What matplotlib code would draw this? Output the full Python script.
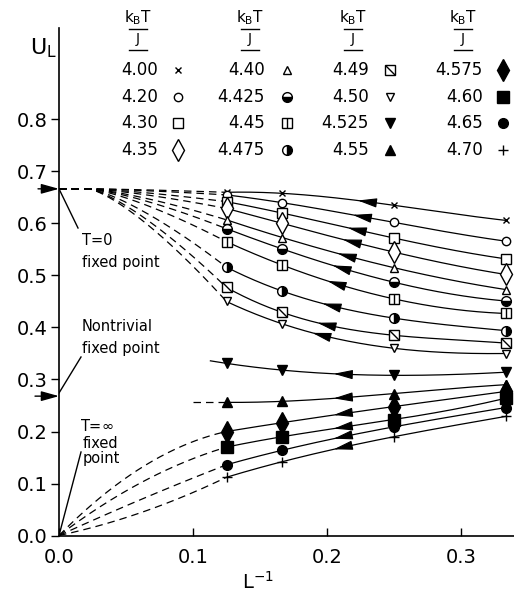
import numpy as np
import matplotlib
matplotlib.use('Agg')
import matplotlib.pyplot as plt
from matplotlib.path import Path


# inverse system sizes, L = 8, 6, 4, 3
L_inv = [1 / 8, 1 / 6, 1 / 4, 1 / 3]

# temperatures kB T / J
temps_upper = ['4.00', '4.20', '4.30', '4.35', '4.40',
               '4.425', '4.45', '4.475', '4.49', '4.50']
temps_lower = ['4.525', '4.55', '4.575', '4.60', '4.65', '4.70']

# cumulant U_L at L = 8, 6, 4, 3
U_400 = [0.660, 0.658, 0.635, 0.606]
U_420 = [0.655, 0.640, 0.602, 0.566]
U_430 = [0.642, 0.620, 0.572, 0.532]
U_435 = [0.629, 0.600, 0.545, 0.502]
U_440 = [0.607, 0.573, 0.515, 0.473]
U_4425 = [0.590, 0.551, 0.487, 0.451]
U_445 = [0.565, 0.520, 0.455, 0.427]
U_4475 = [0.516, 0.470, 0.418, 0.394]
U_449 = [0.477, 0.429, 0.385, 0.370]
U_450 = [0.450, 0.407, 0.360, 0.350]
U_4525 = [0.331, 0.318, 0.308, 0.314]
U_455 = [0.256, 0.258, 0.273, 0.290]
U_4575 = [0.200, 0.217, 0.248, 0.277]
U_460 = [0.170, 0.190, 0.223, 0.264]
U_465 = [0.136, 0.164, 0.209, 0.246]
U_470 = [0.112, 0.142, 0.190, 0.229]

U_upper = [U_400, U_420, U_430, U_435, U_440, U_4425, U_445, U_4475, U_449, U_450]
U_lower = [U_4525, U_455, U_4575, U_460, U_465, U_470]

# fixed points on the U axis
U_T0 = 2 / 3
U_star = 0.268

# dashed guides towards T = inf: value read at L^-1 = 0.06
dash_mid_x = 0.06
dash_mid = {'4.575': 0.128, '4.60': 0.100, '4.65': 0.068, '4.70': 0.043}

slash = Path([(-1, 1), (1, -1)], [Path.MOVETO, Path.LINETO])
MARKERS = {
    '4.00': [dict(marker='x', ms=5, mew=1)],
    '4.20': [dict(marker='o', ms=6, mfc='white', mew=1)],
    '4.30': [dict(marker='s', ms=7, mfc='white', mew=1)],
    '4.35': [dict(marker='d', ms=11, mfc='white', mew=1)],
    '4.40': [dict(marker='^', ms=6, mfc='white', mew=1)],
    '4.425': [dict(marker='o', ms=7, fillstyle='bottom', mfc='k',
                   markerfacecoloralt='white', mew=1)],
    '4.45': [dict(marker='s', ms=7, mfc='white', mew=1), dict(marker='|', ms=7, mew=1)],
    '4.475': [dict(marker='o', ms=7, fillstyle='right', mfc='k',
                   markerfacecoloralt='white', mew=1)],
    '4.49': [dict(marker='s', ms=7, mfc='white', mew=1), dict(marker=slash, ms=7, mew=1)],
    '4.50': [dict(marker='v', ms=6, mfc='white', mew=1)],
    '4.525': [dict(marker='v', ms=7, mfc='k')],
    '4.55': [dict(marker='^', ms=7, mfc='k')],
    '4.575': [dict(marker='d', ms=11, mfc='k')],
    '4.60': [dict(marker='s', ms=8, mfc='k')],
    '4.65': [dict(marker='o', ms=7, mfc='k')],
    '4.70': [dict(marker='+', ms=7, mew=1)],
}

fig = plt.figure(figsize=(5.14, 6.01), dpi=100)
ax = fig.add_axes([59 / 514, 65.5 / 601, 455 / 514, 507 / 601])
ax.set_xlim(0, 455 / 1340)
ax.set_ylim(0, 507 / 520)


def px_x(p):
    return (p - 59) / 1340


def px_y(p):
    return (535.5 - p) / 520


def put_marker(x, y, key):
    for st in MARKERS[key]:
        ax.plot(x, y, linestyle='none', color='k', mec='k', zorder=5,
                clip_on=False, **st)


def put_arrow(coef, xa):
    ya = np.polyval(coef, xa)
    yb = np.polyval(coef, xa + 0.01)
    ax.annotate('', xy=(xa, ya), xytext=(xa + 0.01, yb),
                arrowprops=dict(arrowstyle='-|>,head_length=0.9,head_width=0.22',
                                mutation_scale=13, color='k', lw=0.8,
                                shrinkA=0, shrinkB=0), zorder=4)


dash = (0, (6, 4))
lw = 0.9

# upper family: flows to T = 0 fixed point
arrow_up = np.linspace(0.223, 0.189, len(temps_upper))
for t, u, xa in zip(temps_upper, U_upper, arrow_up):
    coef = np.polyfit(L_inv, u, 3)
    xs = np.linspace(L_inv[0], L_inv[-1], 200)
    ax.plot(xs, np.polyval(coef, xs), color='k', lw=lw, zorder=3)
    put_arrow(coef, xa)
    # dashed extrapolation to L^-1 = 0
    x0, x8 = 0.022, L_inv[0]
    xd = np.linspace(0, x8, 200)
    s = np.clip((xd - x0) / (x8 - x0), 0, 1) ** 1.35
    ax.plot(xd, U_T0 - (U_T0 - u[0]) * s, color='k', lw=lw, ls=dash, zorder=2)
    for x, y in zip(L_inv, u):
        put_marker(x, y, t)

# lower family
for t, u in zip(temps_lower, U_lower):
    coef = np.polyfit(L_inv, u, 3)
    x_start = 0.113 if t == '4.525' else L_inv[0]
    xs = np.linspace(x_start, L_inv[-1], 200)
    ax.plot(xs, np.polyval(coef, xs), color='k', lw=lw, zorder=3)
    put_arrow(coef, 0.205)
    if t == '4.55':
        ax.plot([0.1, L_inv[0]], [u[0], u[0]], color='k', lw=lw, ls=dash, zorder=2)
    elif t in dash_mid:
        # quadratic through the origin, the read mid value and the L = 8 point
        A = np.array([[dash_mid_x, dash_mid_x ** 2], [L_inv[0], L_inv[0] ** 2]])
        a, b = np.linalg.solve(A, [dash_mid[t], u[0]])
        xd = np.linspace(0, L_inv[0], 200)
        ax.plot(xd, a * xd + b * xd ** 2, color='k', lw=lw, ls=dash, zorder=2)
    for x, y in zip(L_inv, u):
        put_marker(x, y, t)

# axes styling
for side in ['top', 'right']:
    ax.spines[side].set_visible(False)
for side in ['left', 'bottom']:
    ax.spines[side].set_linewidth(1.2)
ax.set_xticks([0.0, 0.1, 0.2, 0.3])
ax.set_xticklabels(['0.0', '0.1', '0.2', '0.3'])
ax.set_yticks(np.arange(0, 0.81, 0.1))
ax.set_yticklabels(['%.1f' % v for v in np.arange(0, 0.81, 0.1)])
ax.tick_params(axis='x', direction='in', length=6, width=1, pad=9, labelsize=14)
ax.tick_params(axis='y', direction='out', length=6, width=1, pad=2, labelsize=14)

ax.text(px_x(258), px_y(582), r'L$^{-1}$', fontsize=14, ha='center', va='center')
ax.text(px_x(57), px_y(48), r'U$_{\rm L}$', fontsize=16, ha='right', va='center',
        clip_on=False)

# fixed point annotations
arr = dict(arrowstyle='-|>,head_length=0.9,head_width=0.25', mutation_scale=12,
           color='k', lw=1, shrinkA=0, shrinkB=0)
ax.annotate('', xy=(0, U_T0), xytext=(px_x(38), U_T0), arrowprops=arr,
            annotation_clip=False)
ax.annotate('', xy=(0, U_star), xytext=(px_x(35), U_star), arrowprops=arr,
            annotation_clip=False)
ax.plot([0, px_x(78)], [U_T0, px_y(228)], color='k', lw=1)
ax.plot([0, px_x(81)], [0.274, px_y(357)], color='k', lw=1)
ax.plot([0, px_x(81)], [0, px_y(452)], color='k', lw=1)
fs = 10.5
ax.text(px_x(82), px_y(241), 'T=0', fontsize=fs, va='center')
ax.text(px_x(82), px_y(263), 'fixed point', fontsize=fs, va='center')
ax.text(px_x(82), px_y(327), 'Nontrivial', fontsize=fs, va='center')
ax.text(px_x(82), px_y(348), 'fixed point', fontsize=fs, va='center')
ax.text(px_x(80), px_y(426), r'T=$\infty$', fontsize=fs, va='center')
ax.text(px_x(83), px_y(444), 'fixed', fontsize=fs, va='center')
ax.text(px_x(83), px_y(459), 'point', fontsize=fs, va='center')

# legend table
legend_cols = [temps_upper[:4], temps_upper[4:8], temps_upper[8:] + temps_lower[:2],
               temps_lower[2:]]
head_x = [138, 250, 353, 463]
num_x = [158, 265, 369, 483]
mark_x = [178, 287, 390, 503]
row_y = [70, 97, 123, 150]
for col, hx, nx, mx in zip(legend_cols, head_x, num_x, mark_x):
    ax.text(px_x(hx), px_y(22), r'k$_{\rm B}$T', fontsize=11, ha='center',
            va='baseline', clip_on=False)
    ax.plot([px_x(hx - 9), px_x(hx + 9)], [px_y(29), px_y(29)], color='k', lw=1,
            clip_on=False)
    ax.text(px_x(hx), px_y(43), 'J', fontsize=10, ha='center', va='baseline',
            clip_on=False)
    ax.plot([px_x(hx - 9), px_x(hx + 9)], [px_y(50), px_y(50)], color='k', lw=1,
            clip_on=False)
    for t, ry in zip(col, row_y):
        ax.text(px_x(nx), px_y(ry), t, fontsize=12, ha='right', va='center')
        put_marker(px_x(mx), px_y(ry), t)

fig.savefig('out.png', dpi=100)
